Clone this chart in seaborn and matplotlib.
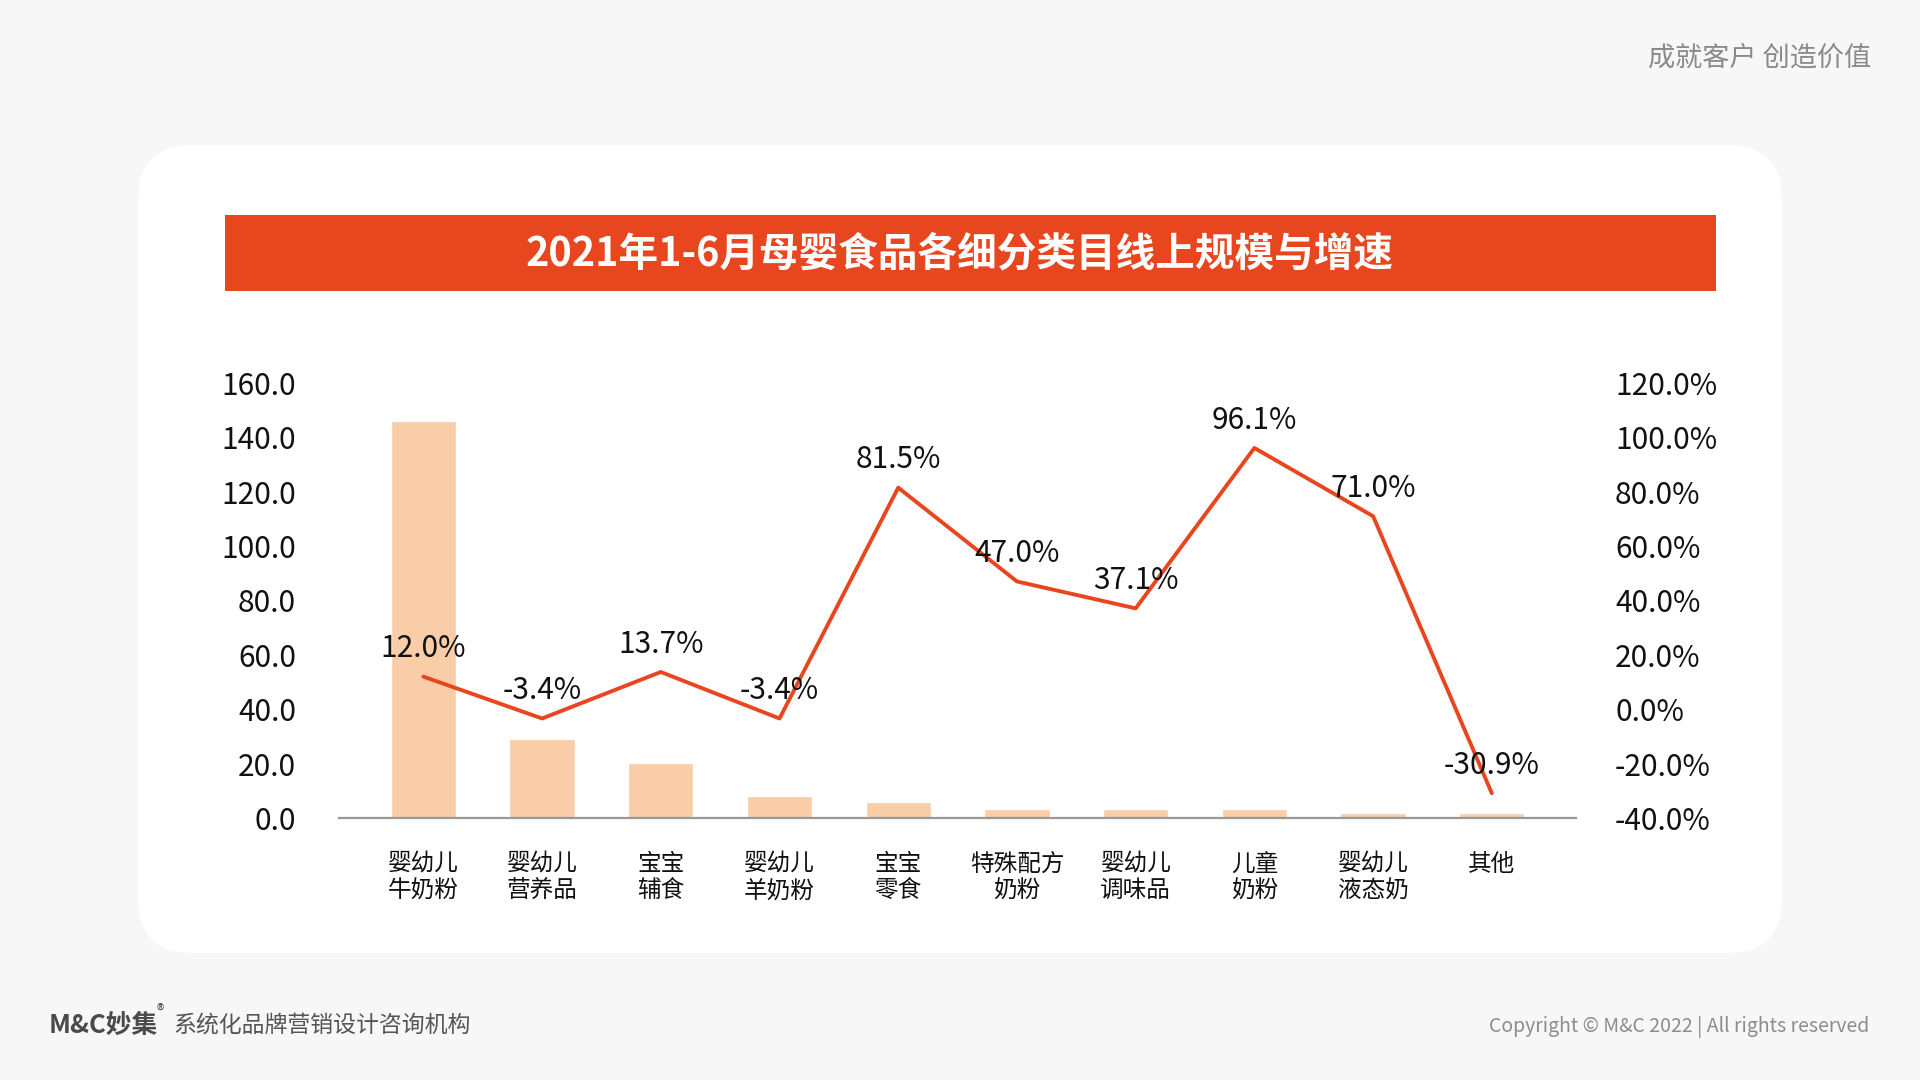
import numpy as np
import matplotlib
matplotlib.use("Agg")
import matplotlib.pyplot as plt
from matplotlib.patches import FancyBboxPatch, Rectangle
import seaborn as sns

# ---- data ----
categories = ["婴幼儿\n牛奶粉", "婴幼儿\n营养品", "宝宝\n辅食", "婴幼儿\n羊奶粉", "宝宝\n零食",
              "特殊配方\n奶粉", "婴幼儿\n调味品", "儿童\n奶粉", "婴幼儿\n液态奶", "其他"]
sales = [146.0, 29.2, 20.2, 8.0, 5.8, 3.2, 3.2, 3.2, 1.7, 1.7]
growth = [12.0, -3.4, 13.7, -3.4, 81.5, 47.0, 37.1, 96.1, 71.0, -30.9]
left_ticks = [0, 20, 40, 60, 80, 100, 120, 140, 160]
right_ticks = [-40, -20, 0, 20, 40, 60, 80, 100, 120]
title = "2021年1-6月母婴食品各细分类目线上规模与增速"

sns.set_theme(style="white")
plt.rcParams['font.family'] = ['Noto Sans CJK SC', 'DejaVu Sans']

BG = "#f7f7f7"
RED = "#e8461f"
BAR = "#f9cda8"

fig = plt.figure(figsize=(19.2, 10.8), dpi=100, facecolor=BG)

# background layer in pixel coords
bg = fig.add_axes([0, 0, 1, 1], zorder=0)
bg.set_xlim(0, 1920)
bg.set_ylim(1080, 0)
bg.axis("off")
bg.add_patch(FancyBboxPatch((138, 145), 1644, 808,
                            boxstyle="round,pad=0,rounding_size=55",
                            facecolor="white", edgecolor="none"))
bg.add_patch(Rectangle((225, 215), 1491, 76, facecolor=RED, edgecolor="none"))
bg.text(960, 254, title, color="white", fontsize=28.5, fontweight="bold",
        ha="center", va="center")
bg.text(1871, 58, "成就客户 创造价值", color="#8a8a8a", fontsize=19.5,
        ha="right", va="center")
bg.text(49, 1025, "M&C妙集", color="#4a4a4a", fontsize=18.5, fontweight="bold",
        ha="left", va="center")
bg.text(157, 1011, "®", color="#4a4a4a", fontsize=11, ha="left", va="center")
bg.text(173, 1025, "系统化品牌营销设计咨询机构", color="#555555", fontsize=16.5,
        ha="left", va="center")
bg.text(1869, 1027, "Copyright © M&C 2022 | All rights reserved", color="#8c8c8c",
        fontsize=14, ha="right", va="center")

# main chart
ax = fig.add_axes([0.1766, 0.2426, 0.6443, 0.4028], zorder=2)
ax.patch.set_alpha(0)
sns.barplot(x=categories, y=sales, color=BAR, width=0.55, saturation=1, ax=ax)
ax.set_xlim(-0.71, len(categories) - 1 + 0.71)
ax.set_ylim(0, 160)
ax.set_yticks(left_ticks)
ax.set_yticklabels([f"{v:.1f}" for v in left_ticks], fontsize=21.5, color="#111111")
ax.tick_params(axis="y", length=0, pad=31)
ax.tick_params(axis="x", length=0, pad=25)
for lab in ax.get_xticklabels():
    lab.set_fontsize(17)
    lab.set_fontweight("medium")
    lab.set_color("#111111")
    lab.set_linespacing(1.2)
    lab.set_va("top")
ax.set_xlabel("")
ax.set_ylabel("")
for s in ["top", "left", "right"]:
    ax.spines[s].set_visible(False)
ax.spines["bottom"].set_color("#999999")
ax.spines["bottom"].set_linewidth(1.6)

ax2 = ax.twinx()
ax2.patch.set_alpha(0)
xpos = np.arange(len(categories))
sns.lineplot(x=xpos, y=growth, color=RED, linewidth=2.8, sort=False, ax=ax2)
ax2.set_ylim(-40, 120)
ax2.set_yticks(right_ticks)
ax2.set_yticklabels([f"{v:.1f}%" for v in right_ticks], fontsize=21.5, color="#111111")
ax2.tick_params(axis="y", length=0, pad=28)
ax2.set_ylabel("")
for s in ["top", "left", "right", "bottom"]:
    ax2.spines[s].set_visible(False)
ax2.grid(False)
ax.grid(False)

for xi, g in zip(xpos, growth):
    ax2.annotate(f"{g:.1f}%", (xi, g), xytext=(0, 20), textcoords="offset points",
                 ha="center", va="center", fontsize=21.5, color="#111111")

fig.savefig("out.png", dpi=100, facecolor=BG)
